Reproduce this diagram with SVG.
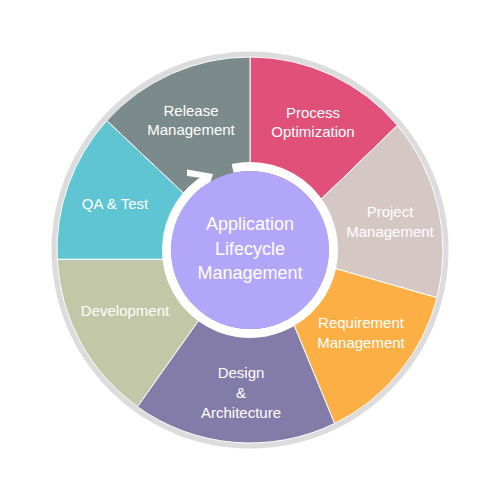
<svg xmlns="http://www.w3.org/2000/svg" width="500" height="500" viewBox="0 0 500 500">
  <style>
    .seg { stroke: #ffffff; stroke-width: 1; }
    .lbl { font-family: "Liberation Sans", Arial, sans-serif; font-size: 15px; fill: #ffffff; text-anchor: middle; }
    .ctr { font-family: "Liberation Sans", Arial, sans-serif; font-size: 18px; fill: #ffffff; text-anchor: middle; }
  </style>
  <rect width="500" height="500" fill="#ffffff"/>
  <circle id="outer-ring" cx="250" cy="250" r="198.5" fill="#dcdcdc"/>

  <g id="process-optimization">
    <path class="seg" fill="#e05079" d="M 250,176 L 250,57 A 193 193 0 0 1 397.4,125.4 L 312,208 L 250,250 Z"/>
    <text class="lbl" x="313" y="118">Process</text>
    <text class="lbl" x="313" y="137">Optimization</text>
  </g>
  <g id="project-management">
    <path class="seg" fill="#d5c8c4" d="M 312,208 L 397.4,125.4 A 193 193 0 0 1 437,297.7 L 323,265 L 250,250 Z"/>
    <text class="lbl" x="390" y="217">Project</text>
    <text class="lbl" x="390" y="237">Management</text>
  </g>
  <g id="requirement-management">
    <path class="seg" fill="#fcaf45" d="M 323,265 L 437,297.7 A 193 193 0 0 1 334.6,423.5 L 289,313 L 250,250 Z"/>
    <text class="lbl" x="361" y="328">Requirement</text>
    <text class="lbl" x="361" y="348">Management</text>
  </g>
  <g id="design-architecture">
    <path class="seg" fill="#847ca8" d="M 289,313 L 334.6,423.5 A 193 193 0 0 1 137.4,406.7 L 206,310 L 250,250 Z"/>
    <text class="lbl" x="241" y="378">Design</text>
    <text class="lbl" x="241" y="398">&amp;</text>
    <text class="lbl" x="241" y="418">Architecture</text>
  </g>
  <g id="development">
    <path class="seg" fill="#c2c7a8" d="M 206,310 L 137.4,406.7 A 193 193 0 0 1 57.2,259.2 L 177,259.2 L 250,250 Z"/>
    <text class="lbl" x="125" y="316">Development</text>
  </g>
  <g id="qa-test">
    <path class="seg" fill="#5fc5d2" d="M 177,259.2 L 57.2,259.2 A 193 193 0 0 1 106.8,120.6 L 193,202 L 250,250 Z"/>
    <text class="lbl" x="115" y="209">QA &amp; Test</text>
  </g>
  <g id="release-management">
    <path class="seg" fill="#7b8a8b" d="M 193,202 L 106.8,120.6 A 193 193 0 0 1 250,57 L 250,176 L 250,250 Z"/>
    <text class="lbl" x="191" y="116">Release</text>
    <text class="lbl" x="191" y="135">Management</text>
  </g>

  <g id="connectors">
    <path d="M 232.6,168.3 A 83.5 83.5 0 1 1 207,178.4" fill="none" stroke="#ffffff" stroke-width="9"/>
    <polygon points="213,174 187,169.5 187,176 205.5,178.5 199,197 205,199.5" fill="#ffffff"/>
  </g>

  <g id="alm-center">
    <circle cx="250" cy="250" r="79" fill="#b2a6fa"/>
    <text class="ctr" x="250" y="230">Application</text>
    <text class="ctr" x="250" y="254.5">Lifecycle</text>
    <text class="ctr" x="250" y="279">Management</text>
  </g>
</svg>
